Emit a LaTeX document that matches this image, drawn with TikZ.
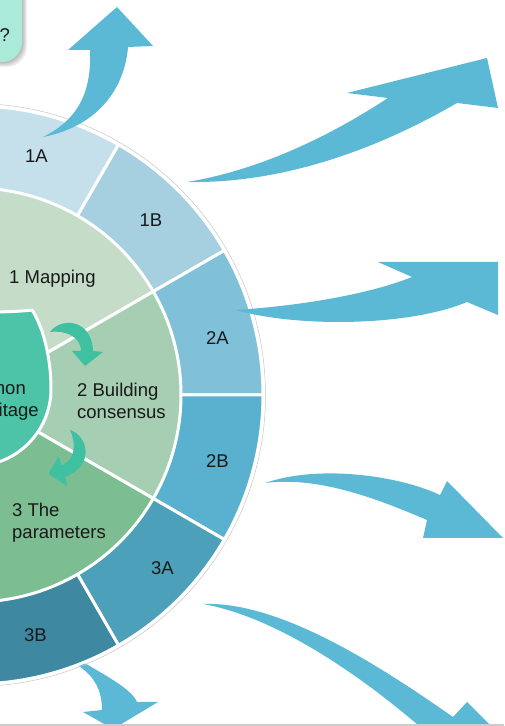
\documentclass[tikz,border=0pt]{standalone}
\usepackage{fontspec}
\setmainfont{Liberation Sans}
\usepackage{tikz}
\usetikzlibrary{calc}
\definecolor{RingOneA}{HTML}{C6E0EB}
\definecolor{RingOneB}{HTML}{A6CFE0}
\definecolor{RingTwoA}{HTML}{80C1D9}
\definecolor{RingTwoB}{HTML}{5AB1CF}
\definecolor{RingThreeA}{HTML}{4DA0BA}
\definecolor{RingThreeB}{HTML}{3E88A2}
\definecolor{StepOne}{HTML}{C4DCC8}
\definecolor{StepTwo}{HTML}{A6CEB2}
\definecolor{StepThree}{HTML}{7CBE92}
\definecolor{CoreTeal}{HTML}{4DC4A7}
\definecolor{TurnTeal}{HTML}{3FC1A1}
\definecolor{ArrowBlue}{HTML}{5BB9D6}
\definecolor{QuestMint}{HTML}{A9EAD9}

\begin{document}
\begin{tikzpicture}[x=1pt, y=1pt,
    seg/.style={draw=white, line width=3pt, line join=round},
    lbl/.style={font=\fontsize{18.5}{22}\selectfont, inner sep=0pt, text=black!90},
    bigarrow/.style={fill=ArrowBlue},
    turnarrow/.style={fill=TurnTeal}
]
    \useasboundingbox (0,0) rectangle (504,726);
    \clip (0,0) rectangle (504,726);
    \coordinate (C) at (-26,331);

    % question box, top left
    \foreach \s in {1,...,5}
        \fill[black, opacity=0.06, rounded corners=20, shift={(\s,-\s)}] (-40,664) rectangle (22,780);
    \fill[QuestMint, rounded corners=20] (-40,664) rectangle (22,780);
    \node[lbl, anchor=base east] (quest) at (10,684) {?};

    % arrow out of 3B, goes under the wheel
    \path[bigarrow] (50,80) -- (88,61) .. controls (110,48) and (132,36) .. (137,24) -- (158,24) -- (113,-3) -- (83,14) -- (102,16) .. controls (102,35) and (95,50) .. (77,61) -- (40,70) -- cycle;

    % outer ring
    \foreach \a/\b/\c in {60/100/RingOneA, 30/60/RingOneB, 0/30/RingTwoA, -30/0/RingTwoB, -60/-30/RingThreeA, -100/-60/RingThreeB}
        \filldraw[seg, fill=\c] (C) -- ++(\a:289) arc (\a:\b:289) -- cycle;
    \draw[gray!45, line width=0.5pt] (C) circle (291.5);

    % steps ring
    \foreach \a/\b/\c in {30/100/StepOne, -30/30/StepTwo, -100/-30/StepThree}
        \filldraw[seg, fill=\c] (C) -- ++(\a:207) arc (\a:\b:207) -- cycle;

    % core
    \filldraw[seg, fill=CoreTeal] (-26,414) arc[start angle=90, end angle=360, radius=77]
        .. controls (51,371) and (42,401) .. (32,416) .. controls (15,414) and (0,414) .. (-26,414) -- cycle;
    \node[lbl, anchor=base east] (core1) at (26,331) {Common};
    \node[lbl, anchor=base east] (core2) at (39,309) {heritage};

    % turn arrows between steps
    \begin{scope}[shift={(78,386)}]
        \path[turnarrow] (-28,8) .. controls (-16,24) and (14,20) .. (15,-11) -- (25,-12) -- (7,-26) -- (-6,-11) -- (3,-11) .. controls (3,4) and (-14,10) .. (-28,8) -- cycle;
    \end{scope}
    \begin{scope}[shift={(71,267)}, rotate=-72]
        \path[turnarrow] (-28,8) .. controls (-16,24) and (14,20) .. (15,-11) -- (25,-12) -- (7,-26) -- (-6,-11) -- (3,-11) .. controls (3,4) and (-14,10) .. (-28,8) -- cycle;
    \end{scope}

    % labels
    \node[lbl, anchor=base] (seg1a) at (36.5,563) {1A};
    \node[lbl, anchor=base] (seg1b) at (151,499) {1B};
    \node[lbl, anchor=base] (seg2a) at (217.5,381) {2A};
    \node[lbl, anchor=base] (seg2b) at (217.5,258) {2B};
    \node[lbl, anchor=base] (seg3a) at (162.5,151) {3A};
    \node[lbl, anchor=base] (seg3b) at (35.5,84) {3B};
    \node[lbl, anchor=base west] (step1) at (9,442) {1 Mapping};
    \node[lbl, anchor=north west, align=left] (step2) at (77,343) {2 Building\\consensus};
    \node[lbl, anchor=north west, align=left] (step3) at (12,223) {3 The\\parameters};

    % arrows leaving the wheel
    \path[bigarrow] (43,589) .. controls (75,605) and (92,630) .. (90,676) -- (68,676) -- (117,719) -- (153,680) -- (128,679) .. controls (125,640) and (100,600) .. (43,589) -- cycle;
    \path[bigarrow] (187,544) .. controls (260,556) and (330,590) .. (388,628) -- (347,633) -- (487,668) -- (498,618) -- (457,623) .. controls (400,590) and (300,542) .. (187,544) -- cycle;
    \path[bigarrow] (235,416) .. controls (300,420) and (370,432) .. (412,449) -- (378,464) -- (498,464) -- (498,411) -- (467,424) .. controls (410,400) and (300,398) .. (235,416) -- cycle;
    \path[bigarrow] (265,243) .. controls (320,262) and (400,250) .. (440,231) -- (447,245) -- (503,188) -- (423,188) -- (427,206) .. controls (380,226) and (320,250) .. (265,243) -- cycle;
    \path[bigarrow] (203,122) .. controls (280,125) and (380,60) .. (453,9) -- (467,24) -- (530,-39) -- (425,-5) .. controls (350,60) and (270,110) .. (203,122) -- cycle;

    \draw[gray!40, line width=1.6pt] (0,0.8) -- (504,0.8);
\end{tikzpicture}
\end{document}
